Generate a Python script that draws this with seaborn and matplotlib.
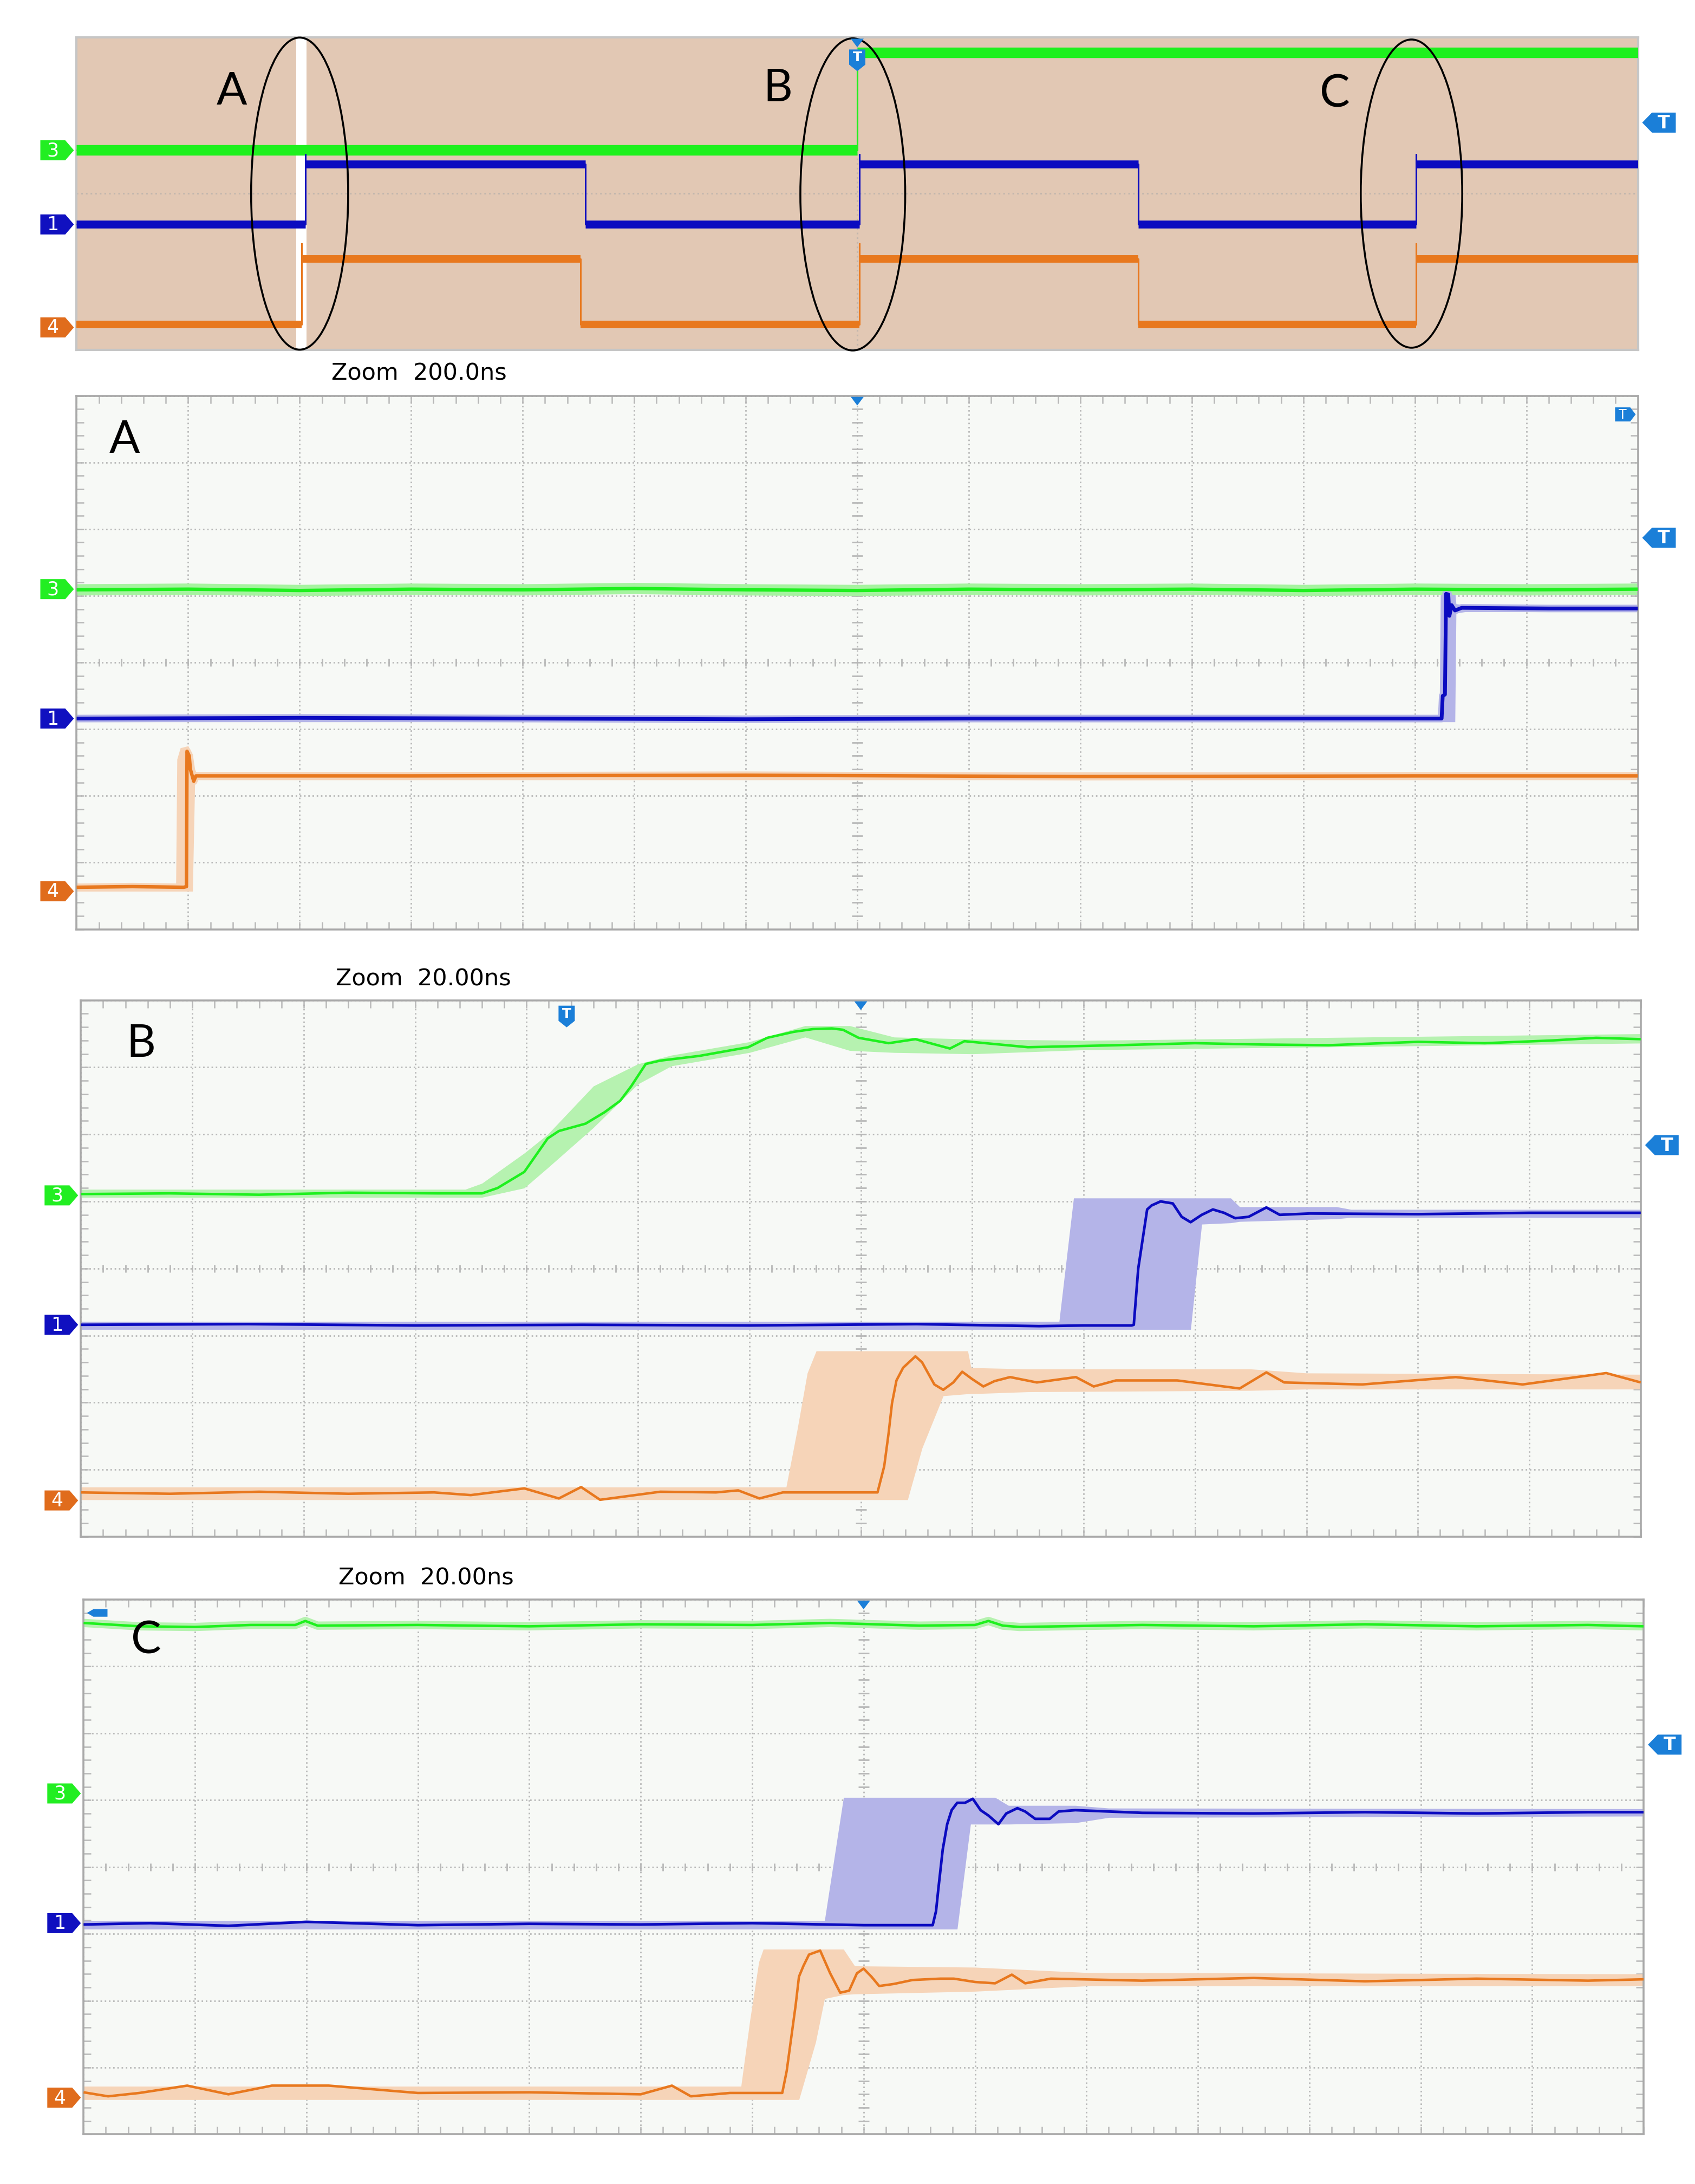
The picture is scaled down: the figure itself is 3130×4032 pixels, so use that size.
import matplotlib
matplotlib.use("Agg")
import matplotlib.pyplot as plt
import matplotlib.patches as mpatches
import matplotlib.transforms as mtransforms
from matplotlib.ticker import MultipleLocator
import numpy as np
import pandas as pd
import seaborn as sns

# --- colours -------------------------------------------------------------
GREEN, GREEN_BAND = "#1ef01e", "#b6f2b0"
BLUE, BLUE_BAND = "#0b0bc0", "#b4b4e8"
ORANGE, ORANGE_BAND = "#e8781e", "#f6d4b8"
TAG_BLUE = "#1b7fd8"
GRID = "#b8b8b8"
BORDER = "#a9a9a9"
SCOPE_BG = "#f7f9f6"
TAN_BG = "#e2c8b4"

# --- overview (all values in screen divisions, 14 x 8) --------------------
OV_GREEN_EDGES = [7.0]
OV_GREEN_LEVELS = (5.11, 7.61)
OV_BLUE_EDGES = [2.05, 4.56, 7.02, 9.52, 12.01]
OV_BLUE_LEVELS = (3.21, 4.75)
OV_BLUE_SPIKE = 5.0
OV_ORANGE_EDGES = [2.02, 4.52, 7.02, 9.52, 12.01]
OV_ORANGE_LEVELS = (0.64, 2.32)
OV_ORANGE_SPIKE = 2.72
OV_ZOOM_WINDOW = (1.97, 2.06)
OV_MARKS = ["A", "B", "C"]
OV_MARK_XY = [(1.39, 6.6), (6.29, 6.68), (11.28, 6.54)]
OV_ELLIPSES = [(2.0, 4.0, 0.87, 8.0), (6.96, 3.98, 0.94, 8.0), (11.97, 4.0, 0.91, 7.9)]

# --- zoom A (200 ns/div) --------------------------------------------------
A_GREEN_T = [0, 1, 2, 3, 4, 5, 6, 7, 8, 9, 10, 11, 12, 13, 14]
A_GREEN_V = [5.09, 5.10, 5.08, 5.10, 5.09, 5.11, 5.09, 5.08, 5.10, 5.09, 5.10, 5.08, 5.10, 5.09, 5.10]
A_BLUE_T = [0, 2, 4, 6, 8, 10, 12.24, 12.25, 12.27, 12.28, 12.30, 12.31, 12.33, 12.36, 12.42, 13.2, 14]
A_BLUE_V = [3.16, 3.17, 3.16, 3.15, 3.16, 3.16, 3.16, 3.50, 3.52, 5.03, 5.02, 4.70, 4.86, 4.78, 4.82, 4.81, 4.81]
A_BLUE_BAND_T = [0, 12.22, 12.23, 12.36, 12.37, 12.45, 14]
A_BLUE_BAND_HI = [3.20, 3.20, 5.06, 5.06, 4.88, 4.86, 4.86]
A_BLUE_BAND_LO = [3.11, 3.11, 3.11, 3.11, 4.74, 4.76, 4.76]
A_ORANGE_T = [0, 0.5, 0.96, 0.985, 0.99, 1.01, 1.02, 1.05, 1.07, 3, 6, 9, 12, 14]
A_ORANGE_V = [0.63, 0.64, 0.63, 0.64, 2.67, 2.60, 2.40, 2.22, 2.30, 2.30, 2.31, 2.29, 2.30, 2.30]
A_ORANGE_BAND_T = [0, 0.89, 0.90, 0.93, 1.00, 1.04, 1.06, 1.07, 14]
A_ORANGE_BAND_HI = [0.69, 0.69, 2.55, 2.72, 2.75, 2.62, 2.40, 2.36, 2.36]
A_ORANGE_BAND_LO = [0.57, 0.57, 0.57, 0.57, 0.57, 0.57, 2.20, 2.24, 2.24]

# --- zoom B (20 ns/div) ---------------------------------------------------
B_GREEN_T = [0, 0.8, 1.6, 2.4, 3.2, 3.6, 3.74, 3.98, 4.19, 4.29, 4.53, 4.70, 4.84, 4.94, 5.07, 5.20,
             5.55, 5.82, 5.99, 6.16, 6.40, 6.57, 6.74, 6.84, 6.98, 7.25, 7.49, 7.80, 7.93, 8.5, 9.3,
             10.0, 10.6, 11.2, 12.0, 12.6, 13.2, 13.6, 14.0]
B_GREEN_V = [5.11, 5.12, 5.10, 5.13, 5.12, 5.12, 5.20, 5.44, 5.94, 6.05, 6.16, 6.33, 6.50, 6.72, 7.05, 7.10,
             7.17, 7.25, 7.30, 7.44, 7.53, 7.57, 7.58, 7.56, 7.44, 7.36, 7.42, 7.28, 7.39, 7.30, 7.33,
             7.36, 7.34, 7.33, 7.38, 7.36, 7.40, 7.44, 7.42]
B_GREEN_BAND_T = [0.0, 3.45, 3.60, 3.98, 4.19, 4.60, 5.00, 5.30, 6.00, 6.50, 6.90, 7.30, 8.00, 9.00, 14.0]
B_GREEN_BAND_HI = [5.18, 5.18, 5.27, 5.72, 6.00, 6.72, 7.05, 7.18, 7.38, 7.62, 7.62, 7.45, 7.42, 7.40, 7.50]
B_GREEN_BAND_LO = [5.06, 5.06, 5.06, 5.20, 5.50, 6.10, 6.75, 7.02, 7.22, 7.45, 7.25, 7.22, 7.20, 7.26, 7.36]
B_BLUE_T = [0, 1.5, 3.0, 4.5, 6.0, 7.5, 8.6, 9.0, 9.43, 9.45, 9.49, 9.54, 9.57, 9.61, 9.69, 9.80, 9.88,
            9.96, 10.06, 10.16, 10.26, 10.36, 10.48, 10.64, 10.76, 11.03, 12.0, 13.0, 14.0]
B_BLUE_V = [3.16, 3.17, 3.15, 3.16, 3.15, 3.17, 3.14, 3.15, 3.15, 3.16, 4.00, 4.55, 4.88, 4.94, 5.00, 4.97,
            4.77, 4.69, 4.80, 4.88, 4.83, 4.75, 4.77, 4.91, 4.80, 4.82, 4.81, 4.83, 4.83]
B_BLUE_BAND_T = [0, 8.78, 8.91, 9.96, 10.06, 10.32, 10.40, 11.27, 11.4, 14]
B_BLUE_BAND_HI = [3.21, 3.21, 5.05, 5.05, 5.05, 5.05, 4.92, 4.92, 4.88, 4.88]
B_BLUE_BAND_LO = [3.09, 3.09, 3.09, 3.09, 4.66, 4.68, 4.70, 4.74, 4.76, 4.76]
B_ORANGE_T = [0, 0.8, 1.6, 2.4, 3.17, 3.5, 3.98, 4.29, 4.49, 4.66, 5.2, 5.7, 5.9, 6.09, 6.3, 7.15, 7.21,
              7.25, 7.28, 7.32, 7.38, 7.49, 7.55, 7.66, 7.74, 7.83, 7.91, 8.0, 8.1, 8.2, 8.34, 8.58,
              8.93, 9.09, 9.29, 9.84, 10.4, 10.64, 10.8, 11.5, 12.34, 12.94, 13.69, 14.0]
B_ORANGE_V = [0.66, 0.64, 0.67, 0.64, 0.66, 0.62, 0.72, 0.57, 0.74, 0.55, 0.67, 0.66, 0.69, 0.57, 0.66, 0.66,
              1.05, 1.55, 1.99, 2.33, 2.52, 2.69, 2.60, 2.27, 2.19, 2.30, 2.46, 2.35, 2.24, 2.32, 2.38,
              2.30, 2.38, 2.24, 2.33, 2.33, 2.21, 2.45, 2.30, 2.27, 2.38, 2.27, 2.44, 2.30]
B_ORANGE_BAND_T = [0, 6.33, 6.43, 6.52, 6.60, 7.42, 7.55, 7.74, 7.96, 7.99, 8.5, 10.5, 11.0, 14]
B_ORANGE_BAND_HI = [0.74, 0.74, 1.60, 2.44, 2.77, 2.77, 2.77, 2.77, 2.77, 2.52, 2.50, 2.50, 2.44, 2.42]
B_ORANGE_BAND_LO = [0.55, 0.55, 0.55, 0.55, 0.55, 0.55, 1.32, 2.10, 2.13, 2.13, 2.16, 2.18, 2.20, 2.20]

# --- zoom C (20 ns/div) ---------------------------------------------------
C_GREEN_T = [0, 0.5, 1.0, 1.5, 1.9, 1.99, 2.1, 3.0, 4.0, 5.0, 6.0, 6.7, 7.5, 8.0, 8.12, 8.25, 8.4, 9.5,
             10.5, 11.5, 12.5, 13.5, 14]
C_GREEN_V = [7.65, 7.60, 7.59, 7.62, 7.62, 7.68, 7.61, 7.62, 7.60, 7.63, 7.62, 7.65, 7.61, 7.62, 7.68, 7.61,
             7.59, 7.62, 7.60, 7.63, 7.60, 7.62, 7.60]
C_BLUE_T = [0, 0.6, 1.3, 2.0, 3.0, 4.0, 5.0, 6.0, 7.0, 7.62, 7.65, 7.67, 7.71, 7.75, 7.79, 7.84, 7.91,
            7.98, 8.05, 8.12, 8.21, 8.28, 8.38, 8.45, 8.54, 8.67, 8.75, 8.90, 9.5, 10.5, 11.5, 12.5,
            13.5, 14]
C_BLUE_V = [3.14, 3.16, 3.12, 3.18, 3.13, 3.15, 3.14, 3.16, 3.13, 3.13, 3.34, 3.66, 4.26, 4.64, 4.85, 4.96,
            4.96, 5.02, 4.85, 4.77, 4.64, 4.80, 4.88, 4.83, 4.72, 4.72, 4.83, 4.85, 4.81, 4.80, 4.82,
            4.80, 4.82, 4.82]
C_BLUE_BAND_T = [0, 6.65, 6.82, 7.84, 7.96, 8.18, 8.3, 8.9, 9.2, 14]
C_BLUE_BAND_HI = [3.20, 3.20, 5.04, 5.04, 5.04, 5.04, 4.92, 4.92, 4.88, 4.87]
C_BLUE_BAND_LO = [3.07, 3.07, 3.07, 3.07, 4.64, 4.64, 4.64, 4.66, 4.74, 4.76]
C_ORANGE_T = [0, 0.22, 0.5, 0.93, 1.3, 1.69, 2.2, 3.0, 4.0, 5.0, 5.28, 5.45, 5.8, 6.27, 6.31, 6.35, 6.39,
              6.42, 6.46, 6.51, 6.61, 6.70, 6.79, 6.87, 6.94, 7.00, 7.07, 7.14, 7.27, 7.44, 7.69, 7.81,
              8.0, 8.18, 8.33, 8.45, 8.68, 9.5, 10.5, 11.5, 12.5, 13.5, 14]
C_ORANGE_V = [0.63, 0.57, 0.62, 0.73, 0.60, 0.73, 0.73, 0.62, 0.63, 0.60, 0.73, 0.57, 0.62, 0.62, 0.95,
              1.44, 1.93, 2.36, 2.52, 2.69, 2.75, 2.41, 2.12, 2.15, 2.41, 2.48, 2.36, 2.22, 2.25, 2.31,
              2.33, 2.33, 2.28, 2.26, 2.39, 2.26, 2.33, 2.30, 2.34, 2.29, 2.33, 2.30, 2.32]
C_ORANGE_BAND_T = [0, 5.90, 5.98, 6.06, 6.10, 6.42, 6.57, 6.65, 6.82, 6.92, 8.0, 9.0, 14]
C_ORANGE_BAND_HI = [0.72, 0.72, 1.71, 2.58, 2.77, 2.77, 2.77, 2.77, 2.77, 2.52, 2.50, 2.42, 2.40]
C_ORANGE_BAND_LO = [0.52, 0.52, 0.52, 0.52, 0.52, 0.52, 1.38, 2.03, 2.09, 2.10, 2.14, 2.22, 2.22]

# channel ground markers (3, 1, 4) and trigger level per panel
CH_LABELS = ["3", "1", "4"]
CH_COLORS = ["#22ee22", "#1010c0", "#e06c1c"]
OV_CH_LEVELS = [5.11, 3.21, 0.57]
A_CH_LEVELS = [5.10, 3.16, 0.57]
B_CH_LEVELS = [5.09, 3.16, 0.54]
C_CH_LEVELS = [5.10, 3.16, 0.55]
TRIG_LEVELS = [5.82, 5.87, 5.84, 5.83]

ZOOM_LABELS = ["Zoom  200.0ns", "Zoom  20.00ns", "Zoom  20.00ns"]
ZOOM_LABEL_XY = [(0.1955, 0.8291), (0.1981, 0.5516), (0.1997, 0.2773)]
PANEL_MARKS = ["A", "B", "C"]
PANEL_MARK_XY = [(0.43, 7.33), (0.54, 7.34), (0.56, 7.38)]

IDENT = mtransforms.IdentityTransform()


def style_zoom(ax):
    ax.set_facecolor(SCOPE_BG)
    ax.xaxis.set_major_locator(MultipleLocator(1))
    ax.yaxis.set_major_locator(MultipleLocator(1))
    ax.xaxis.set_minor_locator(MultipleLocator(0.2))
    ax.yaxis.set_minor_locator(MultipleLocator(0.2))
    ax.grid(True, which="major", color=GRID, lw=2.0, ls=(0, (1, 1.8)))
    ax.tick_params(which="both", direction="in", length=10, width=1.8, color=GRID,
                   bottom=True, left=True, top=True, right=True,
                   labelbottom=False, labelleft=False)
    for s in ax.spines.values():
        s.set_visible(True)
        s.set_color(BORDER)
        s.set_linewidth(2.6)
    ax.set_axisbelow(True)
    # small ticks on the centre cross
    cx = np.arange(0.2, 14, 0.2)
    cy = np.arange(0.2, 8, 0.2)
    ax.plot(cx, np.full(len(cx), 4.0), ls="none", marker="|", ms=10, mew=2.0, color=GRID, zorder=1)
    ax.plot(np.full(len(cy), 7.0), cy, ls="none", marker="_", ms=15, mew=2.0, color=GRID, zorder=1)


def draw_trace(ax, t, v, color, lw=3.0, halo=None, halo_lw=0.0):
    df = pd.DataFrame({"t": t, "v": v})
    if halo:
        sns.lineplot(data=df, x="t", y="v", ax=ax, color=halo, lw=halo_lw,
                     sort=False, estimator=None, zorder=2)
    sns.lineplot(data=df, x="t", y="v", ax=ax, color=color, lw=lw,
                 sort=False, estimator=None, zorder=4)


def draw_band(ax, t, lo, hi, color):
    ax.fill_between(t, lo, hi, color=color, lw=0, zorder=2)


def finish(ax):
    ax.set_xlim(0, 14)
    ax.set_ylim(0, 8)
    ax.set_xlabel("")
    ax.set_ylabel("")


def step_path(edges, low, high, spike=None):
    xs, ys = [0.0], [low]
    state = low
    for e in edges:
        new = high if state == low else low
        xs.append(e)
        ys.append(state)
        if new == high and spike is not None:
            xs.append(e)
            ys.append(spike)
        xs.append(e)
        ys.append(new)
        state = new
    xs.append(14.0)
    ys.append(state)
    return xs, ys


def draw_overview_trace(ax, edges, levels, color, thick, spike=None):
    xs, ys = step_path(edges, levels[0], levels[1], spike)
    df = pd.DataFrame({"t": xs, "v": ys})
    sns.lineplot(data=df, x="t", y="v", ax=ax, color=color, lw=2.2,
                 sort=False, estimator=None, zorder=3)
    for i in range(len(xs) - 1):
        if ys[i] == ys[i + 1] and xs[i] != xs[i + 1]:
            ax.hlines(ys[i], xs[i], xs[i + 1], color=color, lw=thick, zorder=3)


# --- marker tags (drawn in pixel units next to the graticule) --------------
def tag_right(fig, x, y, label, color, wb=46, wt=16, h=37, fs=25):
    verts = [(x - wt - wb, y - h / 2), (x - wt, y - h / 2), (x, y),
             (x - wt, y + h / 2), (x - wt - wb, y + h / 2)]
    fig.add_artist(mpatches.Polygon(verts, closed=True, transform=IDENT, fc=color, ec="none"))
    fig.text(x - wt - wb / 2, y - 1, label, transform=IDENT, color="white", fontsize=fs,
             ha="center", va="center")


def tag_left(fig, x, y, label, color, wb=44, wt=18, h=37, fs=24):
    verts = [(x, y), (x + wt, y - h / 2), (x + wt + wb, y - h / 2),
             (x + wt + wb, y + h / 2), (x + wt, y + h / 2)]
    fig.add_artist(mpatches.Polygon(verts, closed=True, transform=IDENT, fc=color, ec="none"))
    if label:
        fig.text(x + wt + wb / 2, y - 1, label, transform=IDENT, color="white", fontsize=fs,
                 ha="center", va="center", fontweight="bold")


def tag_down(fig, x, ytop, color, w=30, hb=28, ht=12, fs=18):
    verts = [(x - w / 2, ytop), (x + w / 2, ytop), (x + w / 2, ytop - hb),
             (x, ytop - hb - ht), (x - w / 2, ytop - hb)]
    fig.add_artist(mpatches.Polygon(verts, closed=True, transform=IDENT, fc=color, ec="none"))
    fig.text(x, ytop - hb / 2 - 1, "T", transform=IDENT, color="white", fontsize=fs,
             ha="center", va="center", fontweight="bold")


def tri_down(fig, x, ytop, color, w=24, h=16):
    verts = [(x - w / 2, ytop), (x + w / 2, ytop), (x, ytop - h)]
    fig.add_artist(mpatches.Polygon(verts, closed=True, transform=IDENT, fc=color, ec="none"))


def add_channel_tags(fig, ax, levels):
    for lab, col, lev in zip(CH_LABELS, CH_COLORS, levels):
        x0, y0 = ax.transData.transform((0, lev))
        tag_right(fig, x0 - 5, y0, lab, col)


def add_trigger_tag(fig, ax, level):
    x1, y1 = ax.transData.transform((14, level))
    tag_left(fig, x1 + 8, y1, "T", TAG_BLUE)


def main():
    sns.set_theme(style="white")
    plt.rcParams["font.family"] = ["DejaVu Sans"]
    plt.rcParams["lines.solid_capstyle"] = "butt"

    fig = plt.figure(figsize=(31.3, 40.32), dpi=100)
    fig.patch.set_facecolor("white")

    ax_ov = fig.add_axes([0.0452, 0.8399, 0.9211, 0.1429])
    ax_a = fig.add_axes([0.0452, 0.5745, 0.9211, 0.2443])
    ax_b = fig.add_axes([0.0477, 0.2964, 0.9203, 0.2456])
    ax_c = fig.add_axes([0.0493, 0.0227, 0.9204, 0.2449])

    # overview acquisition
    ax_ov.set_facecolor(TAN_BG)
    ax_ov.set_xticks([])
    ax_ov.set_yticks([])
    for s in ax_ov.spines.values():
        s.set_visible(True)
        s.set_color("#c6c6c6")
        s.set_linewidth(3)
    ax_ov.axhline(4, color="#c2b6ad", lw=2.2, ls=(0, (1, 1.8)), zorder=1)
    ax_ov.axvline(7, color="#c2b6ad", lw=2.2, ls=(0, (1, 1.8)), zorder=1)
    ax_ov.axvspan(*OV_ZOOM_WINDOW, color="white", lw=0, zorder=1.5)
    draw_overview_trace(ax_ov, OV_GREEN_EDGES, OV_GREEN_LEVELS, GREEN, 14)
    draw_overview_trace(ax_ov, OV_BLUE_EDGES, OV_BLUE_LEVELS, BLUE, 10.5, OV_BLUE_SPIKE)
    draw_overview_trace(ax_ov, OV_ORANGE_EDGES, OV_ORANGE_LEVELS, ORANGE, 10, OV_ORANGE_SPIKE)
    for (cx, cy, w, h) in OV_ELLIPSES:
        ax_ov.add_patch(mpatches.Ellipse((cx, cy), w, h, fill=False, ec="black", lw=2.6,
                                         zorder=5, clip_on=False))
    for lab, (x, y) in zip(OV_MARKS, OV_MARK_XY):
        ax_ov.text(x, y, lab, fontsize=60, family="Lato", color="black",
                   ha="center", va="center", zorder=6)
    finish(ax_ov)

    # zoom A
    style_zoom(ax_a)
    draw_band(ax_a, A_BLUE_BAND_T, A_BLUE_BAND_LO, A_BLUE_BAND_HI, BLUE_BAND)
    draw_band(ax_a, A_ORANGE_BAND_T, A_ORANGE_BAND_LO, A_ORANGE_BAND_HI, ORANGE_BAND)
    draw_trace(ax_a, A_GREEN_T, A_GREEN_V, GREEN, 4.5, "#a6f3a0", 15)
    draw_trace(ax_a, A_BLUE_T, A_BLUE_V, BLUE, 5.0, BLUE_BAND, 10)
    draw_trace(ax_a, A_ORANGE_T, A_ORANGE_V, ORANGE, 4.6, ORANGE_BAND, 10)
    finish(ax_a)

    # zoom B
    style_zoom(ax_b)
    draw_band(ax_b, B_GREEN_BAND_T, B_GREEN_BAND_LO, B_GREEN_BAND_HI, GREEN_BAND)
    draw_band(ax_b, B_BLUE_BAND_T, B_BLUE_BAND_LO, B_BLUE_BAND_HI, BLUE_BAND)
    draw_band(ax_b, B_ORANGE_BAND_T, B_ORANGE_BAND_LO, B_ORANGE_BAND_HI, ORANGE_BAND)
    draw_trace(ax_b, B_GREEN_T, B_GREEN_V, GREEN, 3.3)
    draw_trace(ax_b, B_BLUE_T, B_BLUE_V, BLUE, 3.5)
    draw_trace(ax_b, B_ORANGE_T, B_ORANGE_V, ORANGE, 3.3)
    finish(ax_b)

    # zoom C
    style_zoom(ax_c)
    draw_trace(ax_c, C_GREEN_T, C_GREEN_V, GREEN, 3.3, GREEN_BAND, 11)
    draw_band(ax_c, C_BLUE_BAND_T, C_BLUE_BAND_LO, C_BLUE_BAND_HI, BLUE_BAND)
    draw_band(ax_c, C_ORANGE_BAND_T, C_ORANGE_BAND_LO, C_ORANGE_BAND_HI, ORANGE_BAND)
    draw_trace(ax_c, C_BLUE_T, C_BLUE_V, BLUE, 3.5)
    draw_trace(ax_c, C_ORANGE_T, C_ORANGE_V, ORANGE, 3.3)
    finish(ax_c)

    for ax, lab, (x, y) in zip([ax_a, ax_b, ax_c], PANEL_MARKS, PANEL_MARK_XY):
        ax.text(x, y, lab, fontsize=60, family="Lato", color="black",
                ha="center", va="center", zorder=6)

    for lab, (x, y) in zip(ZOOM_LABELS, ZOOM_LABEL_XY):
        fig.text(x, y, lab, fontsize=31, ha="left", va="center", color="black")

    # markers: channel grounds, trigger levels, trigger position
    for ax, lev in zip([ax_ov, ax_a, ax_b, ax_c], [OV_CH_LEVELS, A_CH_LEVELS, B_CH_LEVELS, C_CH_LEVELS]):
        add_channel_tags(fig, ax, lev)
    for ax, lev in zip([ax_ov, ax_a, ax_b, ax_c], TRIG_LEVELS):
        add_trigger_tag(fig, ax, lev)
    for ax in [ax_ov, ax_a, ax_b, ax_c]:
        xt, yt = ax.transData.transform((7, 8))
        tri_down(fig, xt, yt - 2, TAG_BLUE)
    xt, yt = ax_ov.transData.transform((7.0, 8))
    tag_down(fig, xt, yt - 22, TAG_BLUE)
    xt, yt = ax_b.transData.transform((4.36, 8))
    tag_down(fig, xt, yt - 10, TAG_BLUE)
    xt, yt = ax_a.transData.transform((13.98, 7.72))
    tag_right(fig, xt, yt, "T", TAG_BLUE, wb=28, wt=10, h=26, fs=17)
    xt, yt = ax_c.transData.transform((0.03, 7.8))
    tag_left(fig, xt, yt, "", TAG_BLUE, wb=26, wt=12, h=14)

    fig.savefig("out.png", dpi=100, facecolor="white")
    plt.close(fig)


if __name__ == "__main__":
    main()
